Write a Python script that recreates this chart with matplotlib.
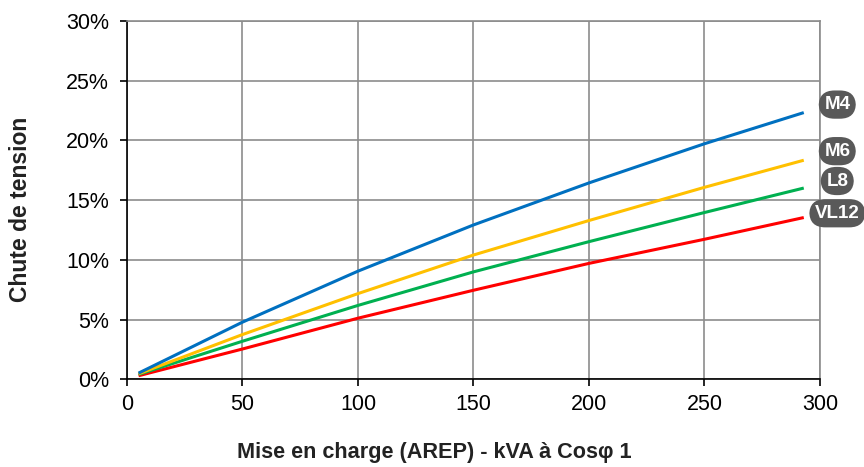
import matplotlib.pyplot as plt
from matplotlib.ticker import FuncFormatter

plt.rcParams['font.family'] = ['Liberation Sans', 'DejaVu Sans']

# puissance (kVA) et chute de tension (%)
kva = [5, 50, 100, 150, 200, 250, 293]
m4 = [0.51, 4.78, 9.05, 12.92, 16.44, 19.72, 22.33]
m6 = [0.45, 3.74, 7.17, 10.4, 13.29, 16.07, 18.34]
l8 = [0.40, 3.18, 6.18, 8.99, 11.52, 13.96, 16.01]
vl12 = [0.29, 2.53, 5.11, 7.45, 9.7, 11.72, 13.54]

names = ["M4", "M6", "L8", "VL12"]
colors = ["#0070C0", "#FFC000", "#00B050", "#FF0000"]
label_y = [23.0, 19.1, 16.6, 13.9]

fig = plt.figure(figsize=(8.64, 4.67), dpi=100)
ax = fig.add_axes([0.147, 0.188, 0.802, 0.767])

for vals, c in zip([vl12, l8, m6, m4], colors[::-1]):
    ax.plot(kva, vals, color=c, lw=2.2, solid_capstyle="butt", zorder=3)

for name, y in zip(names, label_y):
    ax.text(307.5, y, name, ha="center", va="center", color="white",
            fontsize=13.5, fontweight="bold", clip_on=False,
            bbox=dict(boxstyle="round,pad=0.3,rounding_size=0.85",
                      fc="#595959", ec="none"))

ax.set_xlim(0, 300)
ax.set_ylim(0, 30)
ax.set_xticks(range(0, 301, 50))
ax.set_yticks(range(0, 31, 5))
ax.yaxis.set_major_formatter(FuncFormatter(lambda v, p: "%d%%" % v))
ax.grid(True, color="#8c8c8c", lw=1.2)
ax.set_axisbelow(True)
ax.tick_params(labelsize=15.5, length=5, width=1.2, colors="black")
ax.tick_params(axis="x", pad=6)
ax.tick_params(axis="y", pad=8)

for s in ["top", "right"]:
    ax.spines[s].set_color("#8c8c8c")
    ax.spines[s].set_linewidth(1.2)
for s in ["left", "bottom"]:
    ax.spines[s].set_color("black")
    ax.spines[s].set_linewidth(1.2)

ax.set_xlabel("Mise en charge (AREP) - kVA à Cosφ 1", fontsize=15.6,
              fontweight="bold", color="#222222")
ax.set_ylabel("Chute de tension", fontsize=16.5, fontweight="bold",
              color="#222222")
ax.xaxis.set_label_coords(0.444, -0.176)
ax.yaxis.set_label_coords(-0.137, 0.475)

fig.savefig("out.png", dpi=100)
